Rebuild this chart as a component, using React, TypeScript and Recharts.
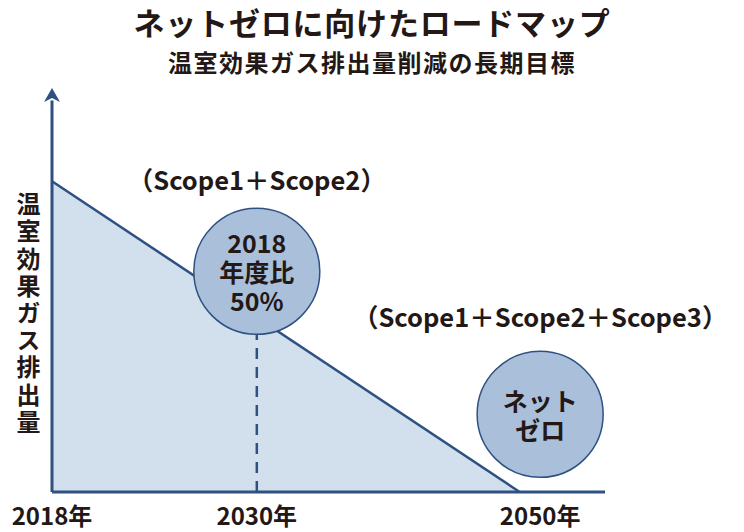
import { Area, AreaChart, ReferenceDot, ReferenceLine, XAxis, YAxis } from "recharts";

if (typeof document !== "undefined") document.body.style.margin = "0";

// schematic timeline: position along the axis (years since 2018, roughly)
const emissionPos = [0, 27.4];
const emissionVal = [100, 0];
const tickPos = [0, 12, 28.6];
const tickLabels = ["2018年", "2030年", "2050年"];
const milestonePos = [12, 28.6];
const milestoneVal = [71, 25];
const milestoneText = [["2018", "年度比", "50%"], ["ネット", "ゼロ"]];
const scopeText = ["（Scope1＋Scope2）", "（Scope1＋Scope2＋Scope3）"];
const scopePos = [12, 28.6];
const scopeVal = [100.8, 56.8];

const rows = emissionPos.map((p, i) => ({ pos: p, v: emissionVal[i] }));

const NAVY = "#2e5182";
const INK = "#231815";
const FONT = "'Noto Sans CJK JP', 'Noto Sans', sans-serif";

function Bubble({ cx, cy, lines }: { cx?: number; cy?: number; lines: string[] }) {
  if (cx == null || cy == null) return null;
  const gap = 29;
  const y0 = cy - ((lines.length - 1) * gap) / 2;
  return (
    <g>
      <circle cx={cx} cy={cy} r={63} fill="#a9bfda" stroke={NAVY} strokeWidth={1.5} />
      {lines.map((t, i) => (
        <text key={i} x={cx} y={y0 + i * gap} textAnchor="middle" dominantBaseline="central"
          fontFamily={FONT} fontWeight={700} fontSize={25} fill={INK}>{t}</text>
      ))}
    </g>
  );
}

function Note({ cx, cy, text }: { cx?: number; cy?: number; text: string }) {
  if (cx == null || cy == null) return null;
  return (
    <text x={cx} y={cy} textAnchor="middle" dominantBaseline="central"
      fontFamily={FONT} fontWeight={700} fontSize={25.5} fill={INK}>{text}</text>
  );
}

function Arrow({ cx, cy }: { cx?: number; cy?: number }) {
  if (cx == null || cy == null) return null;
  return <path d={`M${cx},${cy} L${cx + 8},${cy + 14} L${cx},${cy + 10} L${cx - 8},${cy + 14} Z`} fill={NAVY} />;
}

export default function App() {
  return (
    <div style={{ position: "relative", width: 744, height: 532, background: "#fff", fontFamily: FONT }}>
      <div style={{ position: "absolute", top: 2, left: 0, width: 744, textAlign: "center", fontSize: 31, fontWeight: 700, color: INK, letterSpacing: 0.8, lineHeight: "40px" }}>
        ネットゼロに向けたロードマップ
      </div>
      <div style={{ position: "absolute", top: 47, left: 0, width: 744, textAlign: "center", fontSize: 24, fontWeight: 700, color: INK, letterSpacing: 1.5, lineHeight: "30px" }}>
        温室効果ガス排出量削減の長期目標
      </div>
      <div style={{ position: "absolute", top: 192, left: 14, writingMode: "vertical-rl", fontSize: 24, fontWeight: 700, color: INK, letterSpacing: 3.2, lineHeight: "28px" }}>
        温室効果ガス排出量
      </div>
      <AreaChart width={744} height={532} data={rows} margin={{ top: 88, right: 139, bottom: 10, left: 52 }}
        style={{ position: "absolute", top: 0, left: 0 }}>
        <XAxis dataKey="pos" type="number" domain={[0, 32.4]} ticks={tickPos} height={30}
          tickFormatter={(v: number) => tickLabels[tickPos.indexOf(v)] ?? ""}
          tickLine={false} axisLine={{ stroke: NAVY, strokeWidth: 3 }}
          tick={{ fontFamily: FONT, fontWeight: 700, fontSize: 24, fill: INK, dy: 8 }} interval={0} />
        <YAxis type="number" domain={[0, 130]} hide />
        <Area dataKey="v" type="linear" fill="#d2dfec" fillOpacity={1} stroke={NAVY} strokeWidth={2.5} isAnimationActive={false} />
        <ReferenceLine segment={[{ x: 0, y: 0 }, { x: 0, y: 126 }]} stroke={NAVY} strokeWidth={3} />
        <ReferenceLine segment={[{ x: milestonePos[0], y: 0 }, { x: milestonePos[0], y: milestoneVal[0] }]}
          stroke={NAVY} strokeWidth={2.5} strokeDasharray="11 8" />
        <ReferenceDot x={0} y={130} r={0} shape={(p: any) => <Arrow cx={p.cx} cy={p.cy} />} ifOverflow="visible" />
        {milestonePos.map((p, i) => (
          <ReferenceDot key={"m" + i} x={p} y={milestoneVal[i]} r={63}
            shape={(s: any) => <Bubble cx={s.cx} cy={s.cy} lines={milestoneText[i]} />} ifOverflow="visible" />
        ))}
        {scopePos.map((p, i) => (
          <ReferenceDot key={"s" + i} x={p} y={scopeVal[i]} r={0}
            shape={(s: any) => <Note cx={s.cx} cy={s.cy} text={scopeText[i]} />} ifOverflow="visible" />
        ))}
      </AreaChart>
    </div>
  );
}
